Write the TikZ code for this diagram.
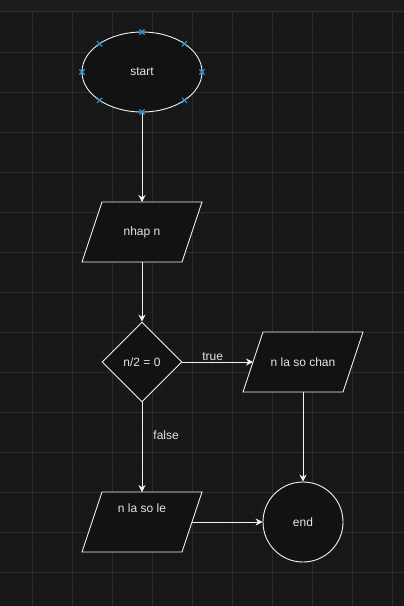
\documentclass[tikz,border=0pt]{standalone}
\usepackage{fontspec}
\setmainfont{Liberation Sans}
\usetikzlibrary{shapes.geometric,arrows.meta}
\definecolor{canvas}{HTML}{171717}
\definecolor{band}{HTML}{1C1C1C}
\definecolor{gridminor}{HTML}{1B1B1B}
\definecolor{gridmajor}{HTML}{2C2C2C}
\definecolor{shapefill}{HTML}{121212}
\definecolor{edge}{HTML}{F2F2F2}
\definecolor{label}{HTML}{E6E6E6}
\definecolor{handle}{HTML}{2F9AE0}
\tikzset{
  flowshape/.style={draw=edge, fill=shapefill, line width=0.9pt, text=label,
    font=\fontsize{12}{14}\selectfont, inner sep=0pt},
  terminal/.style={flowshape, ellipse, minimum width=120pt, minimum height=80pt},
  decision/.style={flowshape, diamond, minimum width=80pt, minimum height=80pt},
  endcircle/.style={flowshape, circle, minimum size=80pt},
  flowline/.style={draw=edge, line width=0.9pt, -{Stealth[length=7pt,width=7pt]}},
  edgelabel/.style={text=label, font=\fontsize{12}{14}\selectfont, inner sep=1pt},
  handlemark/.style={draw=handle, line width=1.1pt},
}
% parallelogram drawn as a path with a named centre
\newcommand{\ioblock}[3]{% name, centre x, centre y
  \coordinate (#1) at (#2,#3);
  \fill[shapefill] (#2-40,#3-30) -- (#2+60,#3-30) -- (#2+40,#3+30) -- (#2-60,#3+30) -- cycle;
  \draw[edge, line width=0.9pt] (#2-40,#3-30) -- (#2+60,#3-30) -- (#2+40,#3+30) -- (#2-60,#3+30) -- cycle;
  \coordinate (#1-w) at (#2-50,#3);
  \coordinate (#1-e) at (#2+50,#3);
  \coordinate (#1-top) at (#2,#3-30);
  \coordinate (#1-bot) at (#2,#3+30);
}
\newcommand{\handleat}[2]{% x, y
  \draw[handlemark] (#1-2.6,#2-2.6) -- (#1+2.6,#2+2.6) (#1-2.6,#2+2.6) -- (#1+2.6,#2-2.6);
}
\begin{document}
\begin{tikzpicture}[x=1pt, y=-1pt]
  % canvas and grid
  \fill[canvas] (0,0) rectangle (404,606);
  \useasboundingbox (0,0) rectangle (404,606);
  \foreach \g in {2,12,...,402} \draw[gridminor, line width=0.6pt] (\g,12) -- (\g,606);
  \foreach \g in {12,22,...,602} \draw[gridminor, line width=0.6pt] (0,\g) -- (404,\g);
  \foreach \g in {32,72,...,392} \draw[gridmajor, line width=0.8pt] (\g,12) -- (\g,606);
  \foreach \g in {52,92,...,572} \draw[gridmajor, line width=0.8pt] (0,\g) -- (404,\g);
  \fill[band] (0,0) rectangle (404,11);
  \draw[gridmajor, line width=1pt] (0,11.5) -- (404,11.5);

  % nodes
  \node[terminal] (start) at (142,72) {start};
  \ioblock{input}{142}{232}
  \node[text=label, font=\fontsize{12}{14}\selectfont] (inputtext) at (142,232) {nhap n};
  \node[decision] (test) at (142,362) {n/2 = 0};
  \ioblock{even}{303}{362}
  \node[text=label, font=\fontsize{12}{14}\selectfont] (eventext) at (303,362) {n la so chan};
  \ioblock{odd}{142}{522}
  \node[text=label, font=\fontsize{12}{14}\selectfont] (oddtext) at (142,508) {n la so le};
  \node[endcircle] (stop) at (303,522) {end};

  % connectors
  \draw[flowline] (start.south) -- (input-top);
  \draw[flowline] (input-bot) -- (test.north);
  \draw[flowline] (test.east) -- node[edgelabel, above, pos=0.5, xshift=-5pt] (truelabel) {true} (even-w);
  \draw[flowline] (test.south) -- node[edgelabel, right, pos=0.367, xshift=10pt] (falselabel) {false} (odd-top);
  \draw[flowline] (even-bot) -- (stop.north);
  \draw[flowline] (odd-e) -- (stop.west);

  % selection handles on the start terminal
  \foreach \hx/\hy in {142/32, 142/112, 82/72, 202/72, 99.6/43.7, 184.4/43.7, 99.6/100.3, 184.4/100.3}
    { \handleat{\hx}{\hy} }
\end{tikzpicture}
\end{document}
